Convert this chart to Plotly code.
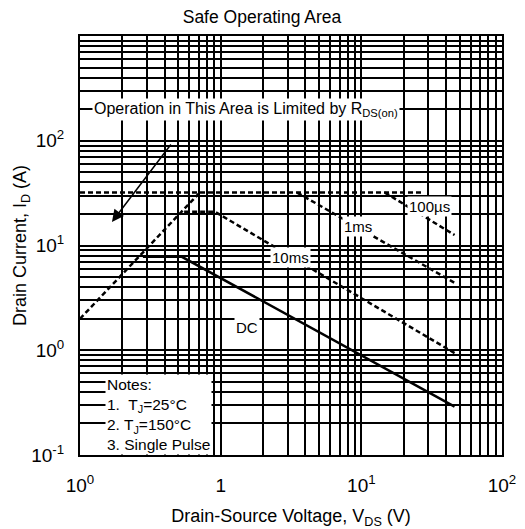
import plotly.graph_objects as go

# Safe operating area curves (V_DS in volts, I_D in amps)
vds_rds = [0.1, 0.71]
id_rds = [2.0, 32]

vds_idm = [0.1, 27]
id_idm = [32, 32]

vds_100us = [14.7, 46]
id_100us = [32, 12.6]

vds_1ms = [3.5, 46]
id_1ms = [32, 4.4]

vds_10ms = [0.55, 0.91, 46]
id_10ms = [21, 21, 0.94]

vds_dc = [0.28, 0.53, 46]
id_dc = [7.8, 7.8, 0.29]

x_tickvals = [0.1, 1, 10, 100]
x_ticktext = ["10<sup>0</sup>", "1", "10<sup>1</sup>", "10<sup>2</sup>"]
y_tickvals = [0.1, 1, 10, 100]
y_ticktext = ["10<sup>-1</sup>", "10<sup>0</sup>", "10<sup>1</sup>", "10<sup>2</sup>"]

FONT = "Arial, Liberation Sans, sans-serif"
dash_style = dict(color="black", width=2.5, dash="5px,3px")

fig = go.Figure()
for xs, ys in [(vds_rds, id_rds), (vds_idm, id_idm), (vds_100us, id_100us),
               (vds_1ms, id_1ms), (vds_10ms, id_10ms)]:
    fig.add_trace(go.Scatter(x=xs, y=ys, mode="lines", line=dash_style,
                             showlegend=False, hoverinfo="skip"))
fig.add_trace(go.Scatter(x=vds_dc, y=id_dc, mode="lines",
                         line=dict(color="black", width=2.5),
                         showlegend=False, hoverinfo="skip"))

label_font = dict(family=FONT, size=15, color="black")


def curve_label(text, xv, yv):
    fig.add_annotation(x=xv, y=yv, xref="x", yref="y", text=text,
                       showarrow=False, bgcolor="white", borderpad=1,
                       font=label_font)


curve_label("100µs", 1.488, 1.368)
curve_label("1ms", 0.976, 1.177)
curve_label("10ms", 0.493, 0.890)
curve_label("DC", 0.187, 0.222)

# R_DS(on) limit note with arrow pointing into the limited region
fig.add_annotation(x=0.18, y=2.294, xref="x", yref="y",
                   text="Operation in This Area is Limited by R<sub>DS(on)</sub>",
                   showarrow=False, bgcolor="white", borderpad=1,
                   font=dict(family=FONT, size=16, color="black"))
fig.add_annotation(x=-0.773, y=1.224, ax=-0.346, ay=1.979,
                   xref="x", yref="y", axref="x", ayref="y",
                   text="", showarrow=True, arrowhead=2, arrowsize=1.6,
                   arrowwidth=1.5, arrowcolor="black")

# Notes block
fig.add_annotation(x=-0.82, y=-1, xref="x", yref="y",
                   xanchor="left", yanchor="bottom", align="left",
                   text="Notes:<br>1.  T<sub>J</sub>=25°C<br>2. T<sub>J</sub>=150°C<br>3. Single Pulse",
                   showarrow=False, bgcolor="white", borderpad=1,
                   font=dict(family=FONT, size=15.5, color="black"))

axis_common = dict(
    type="log", automargin=False,
    showline=True, linecolor="black", linewidth=2, mirror=True,
    showgrid=True, gridcolor="black", gridwidth=2,
    ticks="", zeroline=False,
    tickfont=dict(family=FONT, size=19, color="black"),
    minor=dict(showgrid=True, gridcolor="black", gridwidth=1.5, dtick="D1", ticks=""),
)

fig.update_layout(
    width=525, height=529,
    margin=dict(l=80, r=23, t=36, b=74),
    paper_bgcolor="white", plot_bgcolor="white",
    title=dict(text="Safe Operating Area", x=262 / 525, xref="container",
               xanchor="center",
               y=1 - 17 / 529, yref="container", yanchor="middle",
               font=dict(family=FONT, size=17.5, color="black")),
    xaxis=dict(axis_common, range=[-1, 2], tickvals=x_tickvals, ticktext=x_ticktext,
               ticklabelstandoff=12,
               title=dict(text="Drain-Source Voltage, V<sub>DS</sub> (V)", standoff=20,
                          font=dict(family=FONT, size=18, color="black"))),
    yaxis=dict(axis_common, range=[-1, 3], tickvals=y_tickvals, ticktext=y_ticktext,
               ticklabelstandoff=10,
               title=dict(text="Drain Current, I<sub>D</sub> (A)", standoff=0,
                          font=dict(family=FONT, size=18, color="black"))),
)

fig.write_html("out.html")
